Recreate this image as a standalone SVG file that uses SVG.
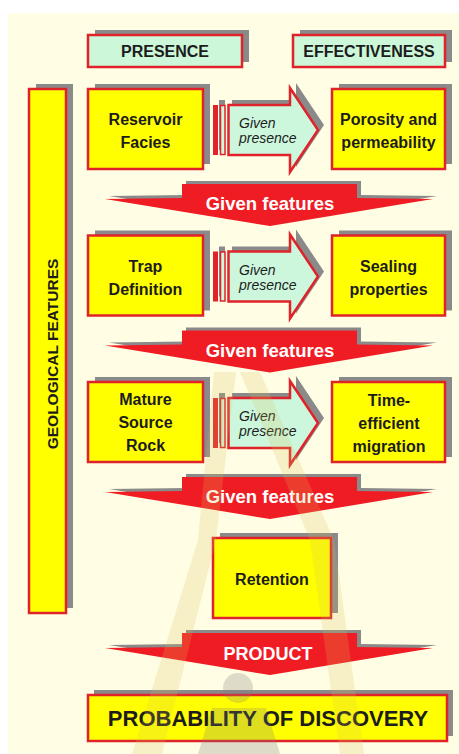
<svg xmlns="http://www.w3.org/2000/svg" width="459" height="754" viewBox="0 0 459 754">
<style>
.sh{fill:#8a8a8a}
.box{fill:#ffff00;stroke:#e0232a;stroke-width:2.5}
.hdr{fill:#ccf7d8;stroke:#e0232a;stroke-width:2.5}
.t{font-family:"Liberation Sans",Arial,sans-serif;font-weight:bold;fill:#1c1c1c;text-anchor:middle}
.gp{font-family:"Liberation Sans",Arial,sans-serif;font-style:italic;font-size:14px;fill:#1c1c1c}
.red{fill:#f01c24}
.wt{font-family:"Liberation Sans",Arial,sans-serif;font-weight:bold;fill:#ffffff;text-anchor:middle}
.arr{fill:#ccf7dc;stroke:#e0232a;stroke-width:2.5;stroke-linejoin:miter}
.wm{fill:#d9bf55;opacity:0.2}
</style>
<defs>
<g id="rarrow">
<rect class="sh" x="219" y="11" width="6" height="50"/>
<path class="sh" d="M232,11 H296 V-6 L324,36 L296,78 V61 H232 Z"/>
<rect x="213" y="16" width="5" height="50" fill="#e0232a"/>
<rect x="220.5" y="16.5" width="4.5" height="49" fill="#ccf7dc" stroke="#e0232a" stroke-width="1.5"/>
<path class="arr" d="M228.5,16 H290 V-1 L318,41 L290,83 V66 H228.5 Z"/>
</g>
<g id="darrow">
<polygon class="sh" points="186,-3 361,-3 361,11 437,12 274,39 109,12 186,11"/>
<polygon class="red" points="182,0 357,0 357,14 433,15 270,42 105,15 182,14"/>
</g>
</defs>
<rect x="8" y="13" width="451" height="741" fill="#fffde3"/>

<g id="presence">
<rect class="sh" x="95" y="30" width="154" height="32"/>
<rect class="hdr" x="88" y="35" width="154" height="32"/>
<text class="t" x="165" y="57" font-size="16">PRESENCE</text>
</g>
<g id="effectiveness">
<rect class="sh" x="300" y="30" width="152" height="32"/>
<rect class="hdr" x="293" y="35" width="152" height="32"/>
<text class="t" x="369" y="57" font-size="16">EFFECTIVENESS</text>
</g>

<g id="geological">
<rect class="sh" x="36" y="84" width="37" height="524"/>
<rect class="box" x="29" y="89" width="37" height="524"/>
<text class="t" font-size="15.5" transform="translate(57.5,354) rotate(-90)">GEOLOGICAL FEATURES</text>
</g>

<g id="connectors">
<use href="#rarrow" transform="translate(0,89)"/>
<use href="#rarrow" transform="translate(0,235.5)"/>
<use href="#rarrow" transform="translate(0,382)"/>
<use href="#darrow" transform="translate(0,184)"/>
<use href="#darrow" transform="translate(0,330.5)"/>
<use href="#darrow" transform="translate(0,477)"/>
<use href="#darrow" transform="translate(0,633)"/>
<text class="gp" x="239" y="128">Given</text>
<text class="gp" x="239" y="143">presence</text>
<text class="gp" x="239" y="274.5">Given</text>
<text class="gp" x="239" y="289.5">presence</text>
<text class="gp" x="239" y="421">Given</text>
<text class="gp" x="239" y="436">presence</text>
<text class="wt" x="270" y="210" font-size="18.5">Given features</text>
<text class="wt" x="270" y="356.5" font-size="18.5">Given features</text>
<text class="wt" x="270" y="503" font-size="18.5">Given features</text>
<text class="wt" x="268" y="660" font-size="18">PRODUCT</text>
</g>

<g id="reservoir">
<rect class="sh" x="95" y="84" width="115" height="80"/>
<rect class="box" x="88" y="89" width="115" height="80"/>
<text class="t" x="145.5" y="125" font-size="16">Reservoir</text>
<text class="t" x="145.5" y="148" font-size="16">Facies</text>
</g>
<g id="porosity">
<rect class="sh" x="339" y="84" width="113" height="80"/>
<rect class="box" x="332" y="89" width="113" height="80"/>
<text class="t" x="388.5" y="125" font-size="16">Porosity and</text>
<text class="t" x="388.5" y="148" font-size="16">permeability</text>
</g>

<g id="trap">
<rect class="sh" x="95" y="230.5" width="115" height="80"/>
<rect class="box" x="88" y="235.5" width="115" height="80"/>
<text class="t" x="145.5" y="272" font-size="16">Trap</text>
<text class="t" x="145.5" y="295" font-size="16">Definition</text>
</g>
<g id="sealing">
<rect class="sh" x="339" y="230.5" width="113" height="80"/>
<rect class="box" x="332" y="235.5" width="113" height="80"/>
<text class="t" x="388.5" y="272" font-size="16">Sealing</text>
<text class="t" x="388.5" y="295" font-size="16">properties</text>
</g>

<g id="source">
<rect class="sh" x="95" y="377" width="115" height="80"/>
<rect class="box" x="88" y="382" width="115" height="80"/>
<text class="t" x="145.5" y="405" font-size="16">Mature</text>
<text class="t" x="145.5" y="428" font-size="16">Source</text>
<text class="t" x="145.5" y="451" font-size="16">Rock</text>
</g>
<g id="migration">
<rect class="sh" x="339" y="377" width="113" height="80"/>
<rect class="box" x="332" y="382" width="113" height="80"/>
<text class="t" x="389" y="406" font-size="16">Time-</text>
<text class="t" x="389" y="429" font-size="16">efficient</text>
<text class="t" x="389" y="452" font-size="16">migration</text>
</g>

<g id="retention">
<rect class="sh" x="220" y="533" width="118" height="80"/>
<rect class="box" x="213" y="538" width="118" height="80"/>
<text class="t" x="272" y="585" font-size="16">Retention</text>
</g>

<g id="probability">
<rect class="sh" x="94" y="690" width="359" height="46"/>
<rect class="box" x="88" y="695" width="359" height="46"/>
<text class="t" x="268" y="726" font-size="22">PROBABILITY OF DISCOVERY</text>
</g>

<g id="watermark">
<polygon class="wm" points="214,372 236,372 216,540 162,754 132,754 198,540"/>
<polygon class="wm" points="240,372 260,372 334,540 364,754 340,754 310,540"/>
<circle cx="238" cy="688" r="15" fill="#7a7a7a" opacity="0.25"/>
<path d="M212,708 H266 L280,754 H198 Z" fill="#7a7a7a" opacity="0.25"/>
</g>
</svg>
